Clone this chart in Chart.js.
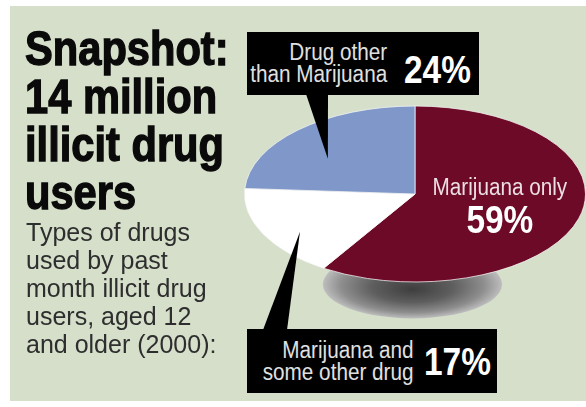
<!DOCTYPE html>
<html>
<head>
<meta charset="utf-8">
<script src="https://cdn.jsdelivr.net/npm/chart.js@4/dist/chart.umd.min.js"></script>
<style>
  body { margin: 0; background: #fff; }
  #wrap { position: relative; width: 586px; height: 407px; overflow: hidden; font-family: "Liberation Sans", Arial, sans-serif; }
  .panel { position: absolute; left: 10px; top: 6px; right: 0; height: 395px; background: #d5dfca; }
  #pie { position: absolute; left: 0; top: 0; }
  .title {
    position: absolute; left: 25px; top: 24px;
    font-weight: bold; font-size: 49px; line-height: 48px;
    color: #0a0a0a; -webkit-text-stroke: 1.4px #0a0a0a;
    transform: scaleX(0.85); transform-origin: 0 0; white-space: nowrap;
  }
  .sub {
    position: absolute; left: 26px; top: 218px;
    font-size: 25px; line-height: 28px; color: #2e2e2e; white-space: nowrap;
  }
  .box { position: absolute; background: #000; }
  .box .txt {
    position: absolute; text-align: right; white-space: nowrap;
    font-size: 23px; line-height: 22px; color: #e0e0e0;
    transform: scaleX(0.9); transform-origin: 100% 0;
  }
  .box .pct {
    position: absolute; white-space: nowrap; color: #fff;
    font-weight: bold; font-size: 38px; line-height: 38px;
    transform: scaleX(0.88); transform-origin: 0 0;
  }
</style>
</head>
<body>
<div id="wrap">
  <div class="panel"></div>
  <canvas id="pie" width="586" height="407"></canvas>
  <div class="title">Snapshot:<br>14 million<br>illicit drug<br>users</div>
  <div class="sub">Types of drugs<br>used by past<br>month illicit drug<br>users, aged 12<br>and older (2000):</div>
  <div class="box" style="left:247px; top:32px; width:232px; height:63px;">
    <div class="txt" style="right:92px; top:9px;">Drug other<br>than Marijuana</div>
    <div class="pct" id="pct-other" style="left:157px; top:19px;"></div>
  </div>
  <div class="box" style="left:247px; top:329px; width:250px; height:64px;">
    <div class="txt" style="right:84px; top:10px;">Marijuana and<br>some other drug</div>
    <div class="pct" id="pct-both" style="left:177px; top:14px;"></div>
  </div>
</div>
<script>
  const categories = ["Marijuana only", "Marijuana and some other drug", "Drug other than Marijuana"];
  const shares = [59, 17, 24];

  // pie is drawn as a circle, then flattened into an ellipse
  const squash = 0.516;

  document.getElementById("pct-both").textContent = shares[1] + "%";
  document.getElementById("pct-other").textContent = shares[2] + "%";

  function arcPoint(arc, t, f) {
    const a = arc.startAngle + t * (arc.endAngle - arc.startAngle);
    return {
      x: arc.x + Math.cos(a) * f * arc.outerRadius,
      y: arc.y + Math.sin(a) * f * arc.outerRadius * squash
    };
  }

  function condensedText(ctx, text, x, y, font, color, sx) {
    ctx.save();
    ctx.translate(x, y);
    ctx.scale(sx, 1);
    ctx.font = font;
    ctx.fillStyle = color;
    ctx.textAlign = "center";
    ctx.textBaseline = "alphabetic";
    ctx.fillText(text, 0, 0);
    ctx.restore();
  }

  const ellipsePie = {
    id: "ellipsePie",
    beforeDatasetsDraw(chart) {
      const ctx = chart.ctx;
      const arc = chart.getDatasetMeta(0).data[0];
      const r = arc.outerRadius;

      // soft shadow under the pie
      ctx.save();
      ctx.translate(arc.x - 0.015 * r, arc.y + 0.53 * r);
      ctx.scale(1, 0.38);
      const sr = 0.525 * r;
      const g = ctx.createRadialGradient(0, 0.15 * sr, 0, 0, 0, sr);
      g.addColorStop(0, "#3e3e3e");
      g.addColorStop(0.45, "#5e5e5e");
      g.addColorStop(0.8, "#8e8e8e");
      g.addColorStop(1, "#bdbdbd");
      ctx.fillStyle = g;
      ctx.beginPath();
      ctx.arc(0, 0, sr, 0, Math.PI * 2);
      ctx.fill();
      ctx.restore();

      ctx.save();
      ctx.translate(arc.x, arc.y);
      ctx.scale(1, squash);
      ctx.translate(-arc.x, -arc.y);
    },
    afterDatasetsDraw(chart) {
      const ctx = chart.ctx;
      ctx.restore();
      const arcs = chart.getDatasetMeta(0).data;

      // callout pointers
      ctx.fillStyle = "#000";
      const tipOther = arcPoint(arcs[2], 0.4, 0.65);
      ctx.beginPath();
      ctx.moveTo(306, 94);
      ctx.lineTo(328, 94);
      ctx.lineTo(tipOther.x, tipOther.y);
      ctx.closePath();
      ctx.fill();

      const tipBoth = arcPoint(arcs[1], 0.41, 0.8);
      ctx.beginPath();
      ctx.moveTo(263, 330);
      ctx.lineTo(287, 330);
      ctx.lineTo(tipBoth.x, tipBoth.y);
      ctx.closePath();
      ctx.fill();

      // label inside the largest slice
      const c = arcPoint(arcs[0], 0.5, 0.5);
      condensedText(ctx, categories[0], c.x + 3, c.y - 11, "23px 'Liberation Sans', Arial", "#ecdfe3", 0.9);
      condensedText(ctx, shares[0] + "%", c.x + 3, c.y + 27, "bold 38px 'Liberation Sans', Arial", "#ffffff", 0.88);
    }
  };

  new Chart(document.getElementById("pie"), {
    type: "pie",
    data: {
      labels: categories,
      datasets: [{
        data: shares,
        backgroundColor: ["#6d0a27", "#ffffff", "#8098c9"],
        borderColor: "#f4f4f4",
        borderWidth: 1,
        clip: false
      }]
    },
    options: {
      responsive: false,
      animation: false,
      layout: { padding: { left: 244, right: 0, top: 23, bottom: 42 } },
      plugins: {
        legend: { display: false },
        tooltip: { enabled: false }
      }
    },
    plugins: [ellipsePie]
  });
</script>
</body>
</html>
